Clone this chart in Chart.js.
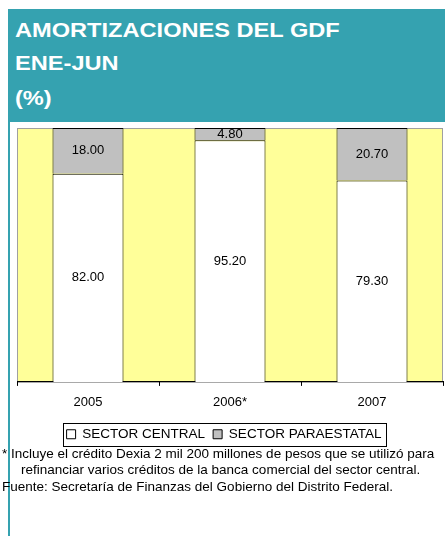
<!DOCTYPE html>
<html>
<head>
<meta charset="utf-8">
<script src="https://cdn.jsdelivr.net/npm/chart.js@4.4.0/dist/chart.umd.min.js"></script>
<style>
  html, body { margin: 0; padding: 0; background: #fff; }
  body { width: 445px; height: 536px; position: relative; overflow: hidden; font-family: "Liberation Sans", Arial, sans-serif; }
  .head { position: absolute; left: 8px; top: 9px; width: 437px; height: 113px; background: #35a2b0; }
  .head div { position: absolute; left: 7px; color: #fff; font-weight: bold; font-size: 20px; transform: scaleX(1.18); transform-origin: left center; white-space: nowrap; }
  .side { position: absolute; left: 8px; top: 122px; width: 2px; height: 414px; background: #35a2b0; }
  .wrap { position: absolute; left: 9px; top: 121px; width: 436px; height: 330px; }
  .note { position: absolute; left: 2px; font-size: 13.5px; color: #000; white-space: nowrap; }
</style>
</head>
<body>
<div class="head">
  <div style="top:10px">AMORTIZACIONES DEL GDF</div>
  <div style="top:43px">ENE-JUN</div>
  <div style="top:78px">(%)</div>
</div>
<div class="side"></div>
<div class="wrap"><canvas id="chart"></canvas></div>
<div class="note" style="top:446px">* Incluye el crédito Dexia 2 mil 200 millones de pesos que se utilizó para</div>
<div class="note" style="top:462px;left:21px">refinanciar varios créditos de la banca comercial del sector central.</div>
<div class="note" style="top:479px">Fuente: Secretaría de Finanzas del Gobierno del Distrito Federal.</div>

<script>
const years = ['2005', '2006*', '2007'];
const central = [82.00, 95.20, 79.30];
const paraestatal = [18.00, 4.80, 20.70];

const FONT = '"Liberation Sans", Arial, sans-serif';

const plotBg = {
  id: 'plotBg',
  beforeDraw(chart) {
    const { ctx, chartArea: a } = chart;
    ctx.save();
    ctx.fillStyle = '#ffff99';
    ctx.fillRect(a.left, a.top, a.right - a.left, a.bottom - a.top);
    ctx.strokeStyle = '#a0a0a0';
    ctx.lineWidth = 1;
    ctx.strokeRect(a.left + 0.5, a.top + 0.5, a.right - a.left - 1, a.bottom - a.top);
    ctx.restore();
  }
};

const valueLabels = {
  id: 'valueLabels',
  afterDatasetsDraw(chart) {
    const ctx = chart.ctx;
    ctx.save();
    ctx.font = '13px ' + FONT;
    ctx.fillStyle = '#000';
    ctx.textAlign = 'center';
    ctx.textBaseline = 'middle';
    chart.data.datasets.forEach((ds, i) => {
      chart.getDatasetMeta(i).data.forEach((bar, j) => {
        const p = bar.getProps(['x', 'y', 'base'], true);
        ctx.fillText(ds.data[j].toFixed(2), p.x, (p.y + p.base) / 2);
      });
    });
    ctx.restore();
  }
};

// Excel-style frame round the legend, nudged a little left like the original
const legendBox = {
  id: 'legendBox',
  afterLayout(chart) {
    const lg = chart.legend;
    lg.left -= 6; lg.right -= 6;
    lg.legendHitBoxes.forEach(b => { b.left -= 6; });
  },
  afterDraw(chart) {
    const boxes = chart.legend.legendHitBoxes;
    if (!boxes || !boxes.length) return;
    const l = Math.min(...boxes.map(b => b.left));
    const r = Math.max(...boxes.map(b => b.left + b.width));
    const t = Math.min(...boxes.map(b => b.top));
    const bt = Math.max(...boxes.map(b => b.top + b.height));
    const ctx = chart.ctx;
    ctx.save();
    ctx.strokeStyle = '#000';
    ctx.lineWidth = 1;
    ctx.strokeRect(Math.round(l - 4) + 0.5, Math.round(t - 5) + 0.5, Math.round(r - l + 8), Math.round(bt - t + 9));
    ctx.restore();
  }
};

new Chart(document.getElementById('chart'), {
  type: 'bar',
  data: {
    labels: years,
    datasets: [
      { label: 'SECTOR CENTRAL', data: central, backgroundColor: '#ffffff', borderColor: '#000', borderWidth: 1 },
      { label: 'SECTOR PARAESTATAL', data: paraestatal, backgroundColor: '#c0c0c0', borderColor: '#000', borderWidth: 1 },
    ],
  },
  options: {
    responsive: true, maintainAspectRatio: false, animation: false,
    layout: { padding: { left: 8, right: 2, top: 7, bottom: 0 } },
    datasets: { bar: { barPercentage: 0.5, categoryPercentage: 1 } },
    plugins: {
      legend: {
        position: 'bottom',
        labels: {
          boxWidth: 9, boxHeight: 9, padding: 8, color: '#000',
          font: { size: 13.5, family: FONT },
        },
      },
      tooltip: { enabled: false },
    },
    scales: {
      x: {
        stacked: true,
        grid: { offset: true, drawOnChartArea: false, color: '#000', tickLength: 4 },
        border: { color: '#000' },
        ticks: { color: '#000', padding: 9, font: { size: 13, family: FONT } },
      },
      y: { stacked: true, display: false, min: 0, max: 100 },
    },
  },
  plugins: [plotBg, valueLabels, legendBox],
});
</script>
</body>
</html>
